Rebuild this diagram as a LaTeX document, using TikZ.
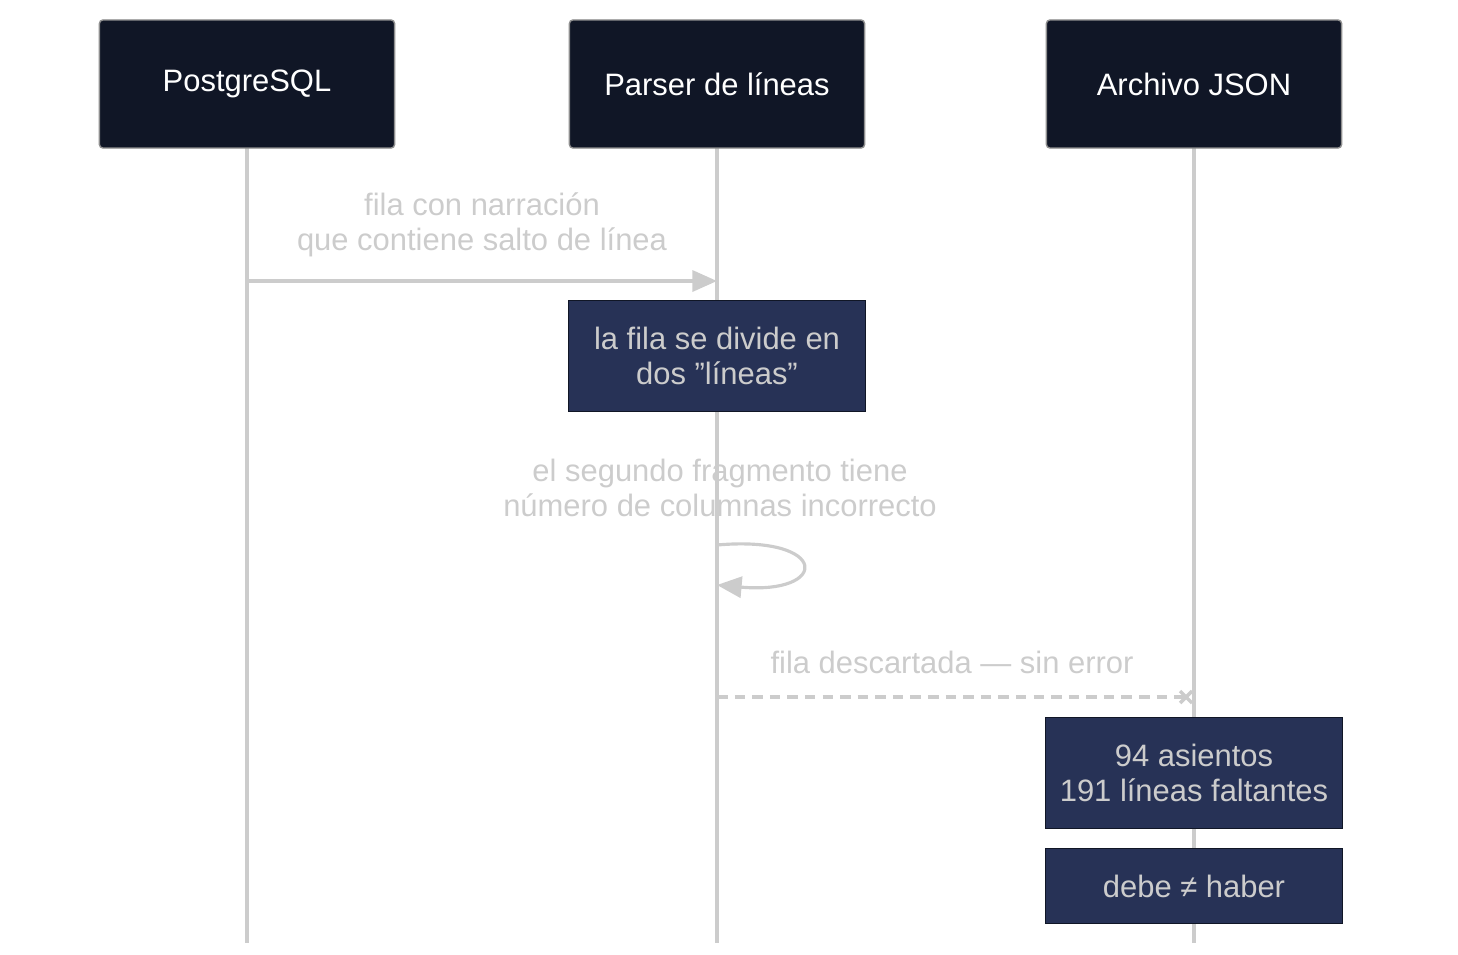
\documentclass[tikz,border=0pt]{standalone}
\usepackage{fontspec}
\setmainfont{Liberation Sans}
\usetikzlibrary{arrows.meta,calc}
\definecolor{actorbg}{HTML}{101626}
\definecolor{notebg}{HTML}{273256}
\definecolor{msgcol}{HTML}{CCCCCC}
\tikzset{
  actor/.style={draw=msgcol!70!black, fill=actorbg, rounded corners=1pt, minimum width=2.95cm, minimum height=1.28cm, text=white, font=\fontsize{8.8}{10.5}\selectfont},
  note/.style={draw=actorbg, fill=notebg, minimum width=2.97cm, text=msgcol, align=center, font=\fontsize{8.8}{10}\selectfont},
  msg/.style={text=msgcol, align=center, font=\fontsize{8.8}{10}\selectfont},
  life/.style={msgcol, line width=1.2pt},
}
\begin{document}
\begin{tikzpicture}[x=0.01cm, y=-0.01cm]
\useasboundingbox (0,0) rectangle (1458,954);
% lifelines
\foreach \x in {247,717,1194} \draw[life] (\x,148) -- (\x,943);
% actors
\node[actor] (pg) at (247,84) {PostgreSQL};
\node[actor] (parser) at (717,84) {Parser de líneas};
\node[actor] (json) at (1194,84) {Archivo JSON};
% message 1
\coordinate (m1a) at (247,281);
\coordinate (m1b) at (717,281);
\draw[msgcol, line width=0.9pt, -{Triangle[length=7pt,width=6pt]}] (m1a) -- (m1b);
\node[msg] (l1) at (482,225) {fila con narración\\que contiene salto de línea};
% note on parser
\node[note, minimum height=1.11cm] (n1) at (717,356) {la fila se divide en\\dos "líneas"};
% self message
\node[msg] (l2) at (720,488) {el segundo fragmento tiene\\número de columnas incorrecto};
\coordinate (s1) at (717,545);
\coordinate (s2) at (717,585);
\draw[msgcol, line width=0.9pt, -{Triangle[length=7pt,width=6pt]}] (s1) .. controls (830,535) and (830,595) .. (s2);
% discarded message
\coordinate (m3a) at (717,697);
\coordinate (m3b) at (1186,697);
\draw[msgcol, line width=0.9pt, dashed, dash pattern=on 3pt off 2pt] (m3a) -- (m3b);
\draw[msgcol, line width=1pt] ($(m3b)+(-6,-6)$) -- ($(m3b)+(6,6)$) ($(m3b)+(-6,6)$) -- ($(m3b)+(6,-6)$);
\node[msg] (l3) at (952,662) {fila descartada — sin error};
% notes on json
\node[note, minimum height=1.11cm] (n2) at (1194,773) {94 asientos\\191 líneas faltantes};
\node[note, minimum height=0.75cm] (n3) at (1194,886) {debe ≠ haber};
\end{tikzpicture}
\end{document}
